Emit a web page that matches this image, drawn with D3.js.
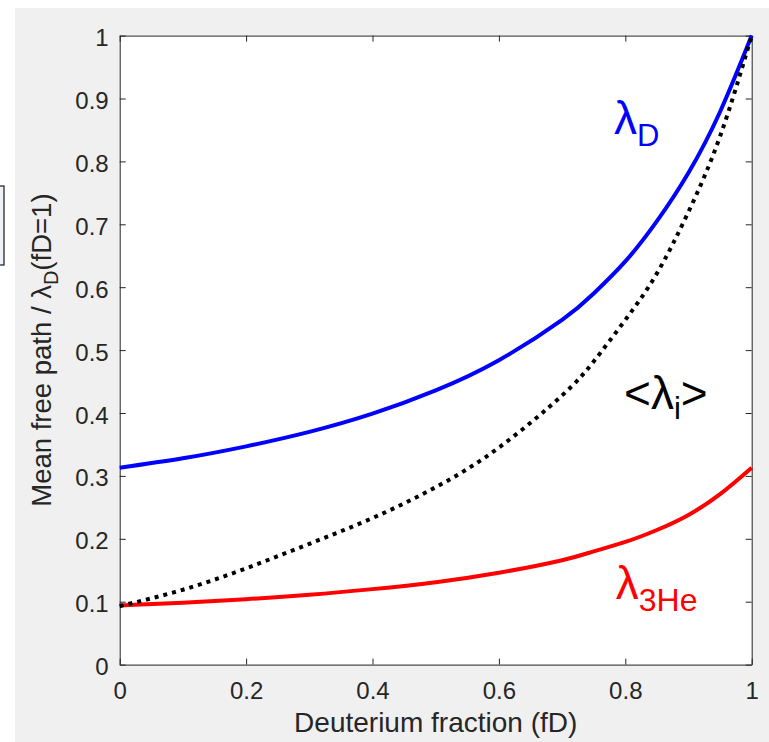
<!DOCTYPE html>
<html>
<head>
<meta charset="utf-8">
<script src="https://cdn.jsdelivr.net/npm/d3@7"></script>
<style>
  body { margin: 0; background: #ffffff; }
  svg { display: block; font-family: "Liberation Sans", Arial, sans-serif; }
</style>
</head>
<body>
<script>
// values
let fD = [0, 0.1, 0.2, 0.3, 0.4, 0.5, 0.6, 0.7, 0.75, 0.8, 0.85, 0.9, 0.95, 1]
let lambdaD = [0.313, 0.328, 0.347, 0.370, 0.399, 0.436, 0.484, 0.548, 0.590, 0.641, 0.705, 0.782, 0.879, 1.0]
let lambdaMean = [0.093, 0.119, 0.153, 0.192, 0.233, 0.282, 0.345, 0.428, 0.482, 0.548, 0.622, 0.720, 0.840, 1.0]
let lambda3He = [0.094, 0.0985, 0.104, 0.111, 0.120, 0.131, 0.146, 0.166, 0.180, 0.195, 0.214, 0.238, 0.271, 0.313]
let xTicks = [0, 0.2, 0.4, 0.6, 0.8, 1]
let yTicks = [0, 0.1, 0.2, 0.3, 0.4, 0.5, 0.6, 0.7, 0.8, 0.9, 1]

function main(){
    let width = 769
    let height = 742
    let left = 119.7, right = 751.7, top = 35.6, bottom = 664.6
    let axisColor = '#262626'

    let svg = d3.select('body')
        .append('svg')
        .attr('width', width)
        .attr('height', height)

    // figure background (grey) and the clipped box at the left edge
    svg.append('rect')
        .attr('x', 15).attr('y', 8)
        .attr('width', width - 15).attr('height', height - 8)
        .attr('fill', '#f0f0f0')
    svg.append('rect')
        .attr('x', -20).attr('y', 186)
        .attr('width', 24).attr('height', 79)
        .attr('fill', '#eef1f5')
        .attr('stroke', '#1a1a1a')
        .attr('stroke-width', 1.2)

    let x = d3.scaleLinear().domain([0, 1]).range([left, right])
    let y = d3.scaleLinear().domain([0, 1]).range([bottom, top])

    // white plot area
    svg.append('rect')
        .attr('x', left).attr('y', top)
        .attr('width', right - left).attr('height', bottom - top)
        .attr('fill', 'white')

    let fmt = d3.format('~g')

    let gx = svg.append('g')
        .attr('transform', 'translate(0,' + bottom + ')')
        .call(d3.axisBottom(x).tickValues(xTicks).tickFormat(fmt)
            .tickSizeInner(-6).tickSizeOuter(0).tickPadding(17))
    let gy = svg.append('g')
        .attr('transform', 'translate(' + left + ',0)')
        .call(d3.axisLeft(y).tickValues(yTicks).tickFormat(fmt)
            .tickSizeInner(-6).tickSizeOuter(0).tickPadding(11))
    let gt = svg.append('g')
        .attr('transform', 'translate(0,' + top + ')')
        .call(d3.axisTop(x).tickValues(xTicks).tickFormat('')
            .tickSizeInner(-6).tickSizeOuter(0))
    let gr = svg.append('g')
        .attr('transform', 'translate(' + right + ',0)')
        .call(d3.axisRight(y).tickValues(yTicks).tickFormat('')
            .tickSizeInner(-6).tickSizeOuter(0))

    svg.selectAll('.domain, .tick line')
        .attr('stroke', axisColor)
        .attr('stroke-width', 1)
    svg.selectAll('.tick text')
        .attr('fill', axisColor)
        .style('font-size', '24px')
        .style('font-family', '"Liberation Sans", Arial, sans-serif')
    gy.selectAll('.tick text').attr('dy', '0.42em')

    // curves
    let line = function(vals){
        return d3.line()
            .x(function(d, i){ return x(fD[i]) })
            .y(function(d){ return y(d) })
            .curve(d3.curveNatural)(vals)
    }

    svg.append('path')
        .attr('d', line(lambda3He))
        .attr('fill', 'none')
        .attr('stroke', '#ff0000')
        .attr('stroke-width', 4)
    svg.append('path')
        .attr('d', line(lambdaD))
        .attr('fill', 'none')
        .attr('stroke', '#0000ff')
        .attr('stroke-width', 4)
    svg.append('path')
        .attr('d', line(lambdaMean))
        .attr('fill', 'none')
        .attr('stroke', '#000000')
        .attr('stroke-width', 4)
        .attr('stroke-dasharray', '4,5')

    // curve annotations
    let lab = function(fx, fy, color, parts){
        let t = svg.append('text')
            .attr('x', x(fx)).attr('y', y(fy))
            .attr('fill', color)
        parts.forEach(function(p){
            t.append('tspan')
                .attr('dy', p.dy || 0)
                .style('font-size', p.size + 'px')
                .text(p.text)
        })
    }
    lab(0.782, 0.8435, '#0000ff', [
        {text: 'λ', size: 46},
        {text: 'D', size: 31, dy: 12}
    ])
    lab(0.798, 0.406, '#000000', [
        {text: '<', size: 46},
        {text: 'λ', size: 46},
        {text: 'i', size: 31, dy: 10},
        {text: '>', size: 46, dy: -10}
    ])
    lab(0.785, 0.104, '#ff0000', [
        {text: 'λ', size: 46},
        {text: '3He', size: 32, dy: 12}
    ])

    // axis labels
    svg.append('text')
        .attr('x', (left + right) / 2)
        .attr('y', 732)
        .attr('text-anchor', 'middle')
        .attr('fill', axisColor)
        .style('font-size', '28px')
        .text('Deuterium fraction (fD)')

    let yl = svg.append('text')
        .attr('transform', 'translate(51,' + ((top + bottom) / 2) + ') rotate(-90)')
        .attr('text-anchor', 'middle')
        .attr('fill', axisColor)
        .style('font-size', '27.5px')
    yl.append('tspan').text('Mean free path / λ')
    yl.append('tspan').attr('dy', 7).style('font-size', '20px').text('D')
    yl.append('tspan').attr('dy', -7).text('(fD=1)')
}

main()
</script>
</body>
</html>
